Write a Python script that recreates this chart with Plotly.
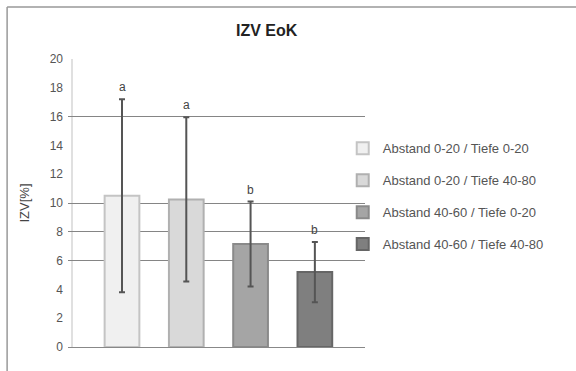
import plotly.graph_objects as go

categories = ["Abstand 0-20 / Tiefe 0-20", "Abstand 0-20 / Tiefe 40-80",
              "Abstand 40-60 / Tiefe 0-20", "Abstand 40-60 / Tiefe 40-80"]
values = [10.5, 10.25, 7.15, 5.2]
errors = [6.7, 5.7, 2.95, 2.1]
letters = ["a", "a", "b", "b"]
colors = ["#f0f0f0", "#d9d9d9", "#a5a5a5", "#7f7f7f"]
edge_colors = ["#c4c4c4", "#b0b0b0", "#8a8a8a", "#666666"]
grid_values = [6, 8, 10, 16, 20]
y_ticks = list(range(0, 21, 2))

font = "Liberation Sans, Arial, sans-serif"
fig = go.Figure()
for i, cat in enumerate(categories):
    fig.add_trace(go.Bar(
        x=[i], y=[values[i]], name=cat, width=0.54,
        marker=dict(color=colors[i], line=dict(color=edge_colors[i], width=2)),
        error_y=dict(type="data", array=[errors[i]], color="#555555",
                     thickness=2, width=3),
        yaxis="y2", legendgroup=str(i),
    ))
    fig.add_annotation(x=i, y=values[i] + errors[i], yref="y2", text=letters[i],
                       showarrow=False, yanchor="bottom", yshift=3,
                       font=dict(family=font, size=12, color="#444444"))

fig.update_layout(
    width=576, height=371,
    margin=dict(l=68, r=211, t=59, b=24),
    paper_bgcolor="white", plot_bgcolor="white",
    barmode="overlay",
    title=dict(text="<b>IZV EoK</b>", x=0.463, xref="container", y=0.919,
               yref="container", xanchor="center", yanchor="middle",
               font=dict(family=font, size=16, color="#222222")),
    xaxis=dict(range=[-0.84, 3.78], showticklabels=False, showgrid=False,
               zeroline=False, showline=True, linecolor="#888888", linewidth=1,
               ticks=""),
    yaxis=dict(range=[0, 20], tickvals=grid_values, showticklabels=False,
               showgrid=True, gridcolor="#858585", gridwidth=1, zeroline=False,
               ticks=""),
    yaxis2=dict(range=[0, 20], tickvals=y_ticks, overlaying="y", side="left",
                showgrid=False, zeroline=False, ticks="", ticklabelstandoff=4,
                tickfont=dict(family=font, size=12, color="#555555"),
                title=dict(text="IZV[%]", standoff=17,
                           font=dict(family=font, size=13, color="#444444"))),
    legend=dict(x=0.925, xanchor="left", y=0.523, yanchor="middle",
                font=dict(family=font, size=13, color="#555555"),
                tracegroupgap=12, itemwidth=30, bgcolor="rgba(0,0,0,0)"),
    showlegend=True,
    shapes=[
        dict(type="line", xref="paper", yref="paper", x0=-0.205, x1=1.75,
             y0=1.1806, y1=1.1806, line=dict(color="#999999", width=1.5)),
        dict(type="line", xref="paper", yref="paper", x0=-0.205, x1=-0.205,
             y0=1.1806, y1=-0.2, line=dict(color="#999999", width=1.5)),
        dict(type="line", xref="paper", yref="paper", x0=0.0135, x1=0.0135,
             y0=0, y1=1, line=dict(color="#e0e0e0", width=2), layer="below"),
    ],
)
fig.add_trace(go.Scatter(x=[None], y=[None], yaxis="y", showlegend=False))

fig.write_html("out.html")
